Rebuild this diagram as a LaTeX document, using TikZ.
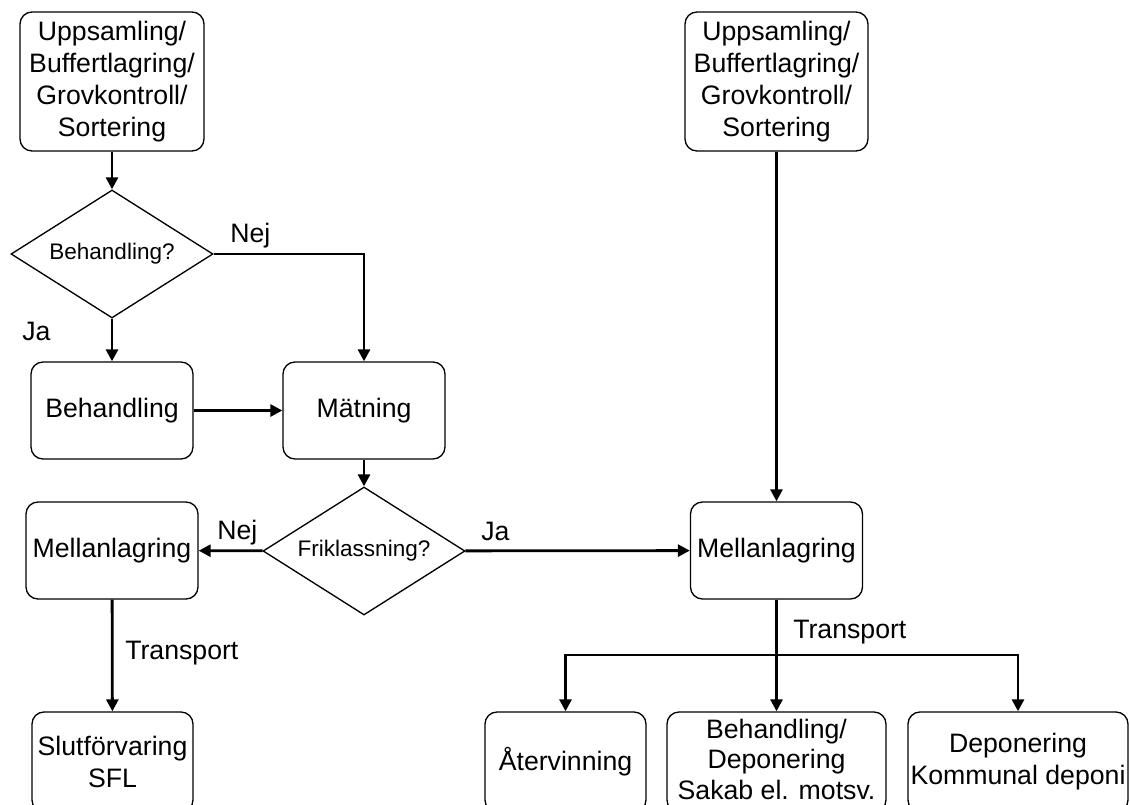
\documentclass[tikz,border=0pt]{standalone}
\usepackage{fontspec}
\setmainfont{Liberation Sans}
\usetikzlibrary{shapes.geometric,arrows.meta}
\tikzset{
  box/.style={draw, line width=1pt, rounded corners=9pt, align=center, inner sep=0pt,
    font=\fontsize{20}{24}\selectfont},
  dia/.style={draw, line width=1pt, diamond, shape aspect=1.58, inner sep=0pt,
    minimum width=151.5pt, minimum height=96pt, font=\fontsize{16.9}{20}\selectfont},
  flow/.style={line width=2.1pt, -{Triangle[length=9pt,width=9pt]}},
  plain/.style={line width=2.1pt},
  lbl/.style={font=\fontsize{20}{24}\selectfont, inner sep=0pt, anchor=base west}
}
\begin{document}
\begin{tikzpicture}[x=0.75pt,y=-0.75pt]
\clip (0,0) rectangle (1130,805);
\useasboundingbox (0,0) rectangle (1130,805);
% nodes
\node[box, minimum width=138pt, minimum height=104.25pt] (top1) at (112,81.5)
  {Uppsamling/\\Buffertlagring/\\Grovkontroll/\\Sortering};
\node[box, minimum width=137.25pt, minimum height=104.25pt] (top2) at (776.5,81.5)
  {Uppsamling/\\Buffertlagring/\\Grovkontroll/\\Sortering};
\node[dia] (d1) at (112,254) {Behandling?};
\node[box, minimum width=121.5pt, minimum height=72.75pt] (beh) at (112,410.5) {Behandling};
\node[box, minimum width=121.5pt, minimum height=72.75pt] (mat) at (364,410.5) {Mätning};
\node[dia] (d2) at (364,551) {Friklassning?};
\node[box, minimum width=129pt, minimum height=72.75pt] (mel1) at (112,550.5) {Mellanlagring};
\node[box, minimum width=129pt, minimum height=72.75pt] (mel2) at (776.5,550.5) {Mellanlagring};
\node[box, minimum width=120.75pt, minimum height=75pt] (slut) at (112.5,762) {Slutförvaring\\SFL};
\node[box, minimum width=120.75pt, minimum height=75pt] (aterv) at (565.5,762) {Återvinning};
\node[box, minimum width=164.25pt, minimum height=75pt,
  font=\fontsize{20}{23}\selectfont] (behdep) at (776.5,762)
  {Behandling/\\Deponering\\Sakab el. motsv.\vspace{4pt}};
\node[box, minimum width=165pt, minimum height=75pt] (depon) at (1018,762)
  {Deponering\\Kommunal deponi};
\coordinate (j) at (776.5,655);
% connectors
\draw[flow] (top1) -- (d1);
\draw[flow] (d1.east) -| (mat.north);
\draw[flow] (d1) -- (beh);
\draw[flow] (beh) -- (mat);
\draw[flow] (mat) -- (d2);
\draw[flow] (d2) -- (mel1);
\draw[flow] (d2) -- (mel2);
\draw[flow] (top2) -- (mel2);
\draw[flow] (mel1) -- (slut);
\draw[plain] (mel2) -- (j);
\draw[flow] (j) -- (behdep);
\draw[flow] (j) -| (aterv.north);
\draw[flow] (j) -| (depon.north);
% labels
\node[lbl] (l1) at (230,243) {Nej};
\node[lbl] (l2) at (22,340) {Ja};
\node[lbl] (l3) at (217,539) {Nej};
\node[lbl] (l4) at (481,540) {Ja};
\node[lbl] (l5) at (125,659) {Transport};
\node[lbl] (l6) at (793,638) {Transport};
\end{tikzpicture}
\end{document}
